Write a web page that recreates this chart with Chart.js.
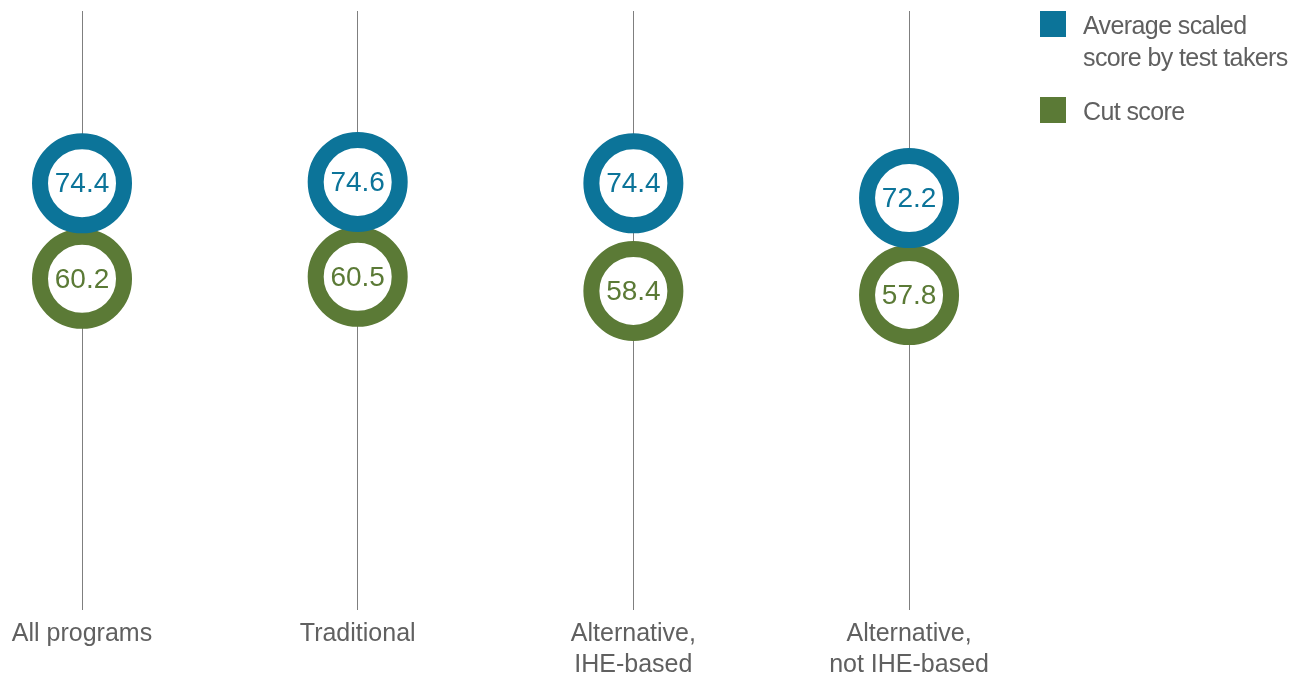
<!DOCTYPE html>
<html>
<head>
<meta charset="utf-8">
<title>Scores by program type</title>
<script src="https://cdn.jsdelivr.net/npm/chart.js@4"></script>
<style>
  html, body { margin: 0; padding: 0; background: #fff; }
  #wrap { width: 1303px; height: 678px; position: relative; }
</style>
</head>
<body>
<div id="wrap"><canvas id="chart"></canvas></div>
<script>
// categorias (com quebra de linha) e valores
const categories = [
  ['All programs'],
  ['Traditional'],
  ['Alternative,', 'IHE-based'],
  ['Alternative,', 'not IHE-based']
];
const averageScores = [74.4, 74.6, 74.4, 72.2];
const cutScores = [60.2, 60.5, 58.4, 57.8];
const seriesNames = [['Average scaled', 'score by test takers'], ['Cut score']];

const BLUE = '#0c7499';
const GREEN = '#5b7a36';
const GRAY_TEXT = '#606060';

// escreve o valor dentro de cada circulo
const valueLabels = {
  id: 'valueLabels',
  afterDatasetsDraw(chart) {
    const ctx = chart.ctx;
    ctx.save();
    ctx.font = '28px "Liberation Sans", Arial, sans-serif';
    ctx.textAlign = 'center';
    ctx.textBaseline = 'middle';
    chart.data.datasets.forEach((ds, i) => {
      const meta = chart.getDatasetMeta(i);
      ctx.fillStyle = ds.borderColor;
      meta.data.forEach((pt, j) => {
        ctx.fillText(ds.data[j].y.toFixed(1), pt.x, pt.y + 1);
      });
    });
    ctx.restore();
  }
};

// legenda no canto direito, com texto em duas linhas
const sideLegend = {
  id: 'sideLegend',
  afterDraw(chart) {
    const ctx = chart.ctx;
    ctx.save();
    ctx.font = '25px "Liberation Sans", Arial, sans-serif';
    ctx.letterSpacing = '-0.6px';
    ctx.textBaseline = 'alphabetic';
    ctx.textAlign = 'left';
    const tops = [11, 97];
    chart.data.datasets.forEach((ds, i) => {
      ctx.fillStyle = ds.borderColor;
      ctx.fillRect(1040, tops[i], 26, 26);
      ctx.fillStyle = GRAY_TEXT;
      seriesNames[i].forEach((line, k) => {
        ctx.fillText(line, 1083, tops[i] + 23 + k * 32);
      });
    });
    ctx.restore();
  }
};

const toPoints = (arr) => arr.map((v, i) => ({ x: i, y: v }));

new Chart(document.getElementById('chart'), {
  type: 'scatter',
  data: {
    datasets: [
      {
        label: 'Average scaled score by test takers',
        data: toPoints(averageScores),
        borderColor: BLUE,
        backgroundColor: '#fff',
        pointRadius: 42,
        pointHoverRadius: 42,
        borderWidth: 16,
        pointHoverBorderWidth: 16
      },
      {
        label: 'Cut score',
        data: toPoints(cutScores),
        borderColor: GREEN,
        backgroundColor: '#fff',
        pointRadius: 42,
        pointHoverRadius: 42,
        borderWidth: 16,
        pointHoverBorderWidth: 16
      }
    ]
  },
  options: {
    responsive: true,
    maintainAspectRatio: false,
    animation: false,
    layout: { autoPadding: false, padding: { top: 11, left: 0, right: 0, bottom: -11 } },
    plugins: {
      legend: { display: false },
      tooltip: { enabled: false }
    },
    scales: {
      x: {
        type: 'linear',
        min: -0.2975,
        max: 4.429,
        afterBuildTicks: (axis) => {
          axis.ticks = categories.map((_, i) => ({ value: i }));
        },
        ticks: {
          autoSkip: false,
          maxRotation: 0,
          padding: 9,
          color: GRAY_TEXT,
          font: { family: '"Liberation Sans", Arial, sans-serif', size: 25, lineHeight: 1.22 },
          callback: (v) => categories[v]
        },
        grid: { color: '#7f7f7f', lineWidth: 1, drawTicks: false },
        border: { display: false }
      },
      y: {
        display: false,
        min: 11,
        max: 100
      }
    }
  },
  plugins: [valueLabels, sideLegend]
});
</script>
</body>
</html>
